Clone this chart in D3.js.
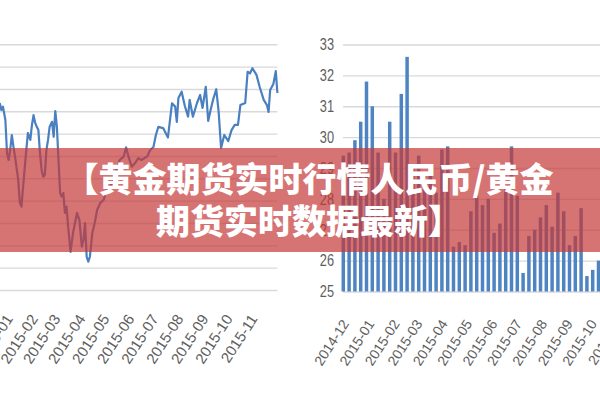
<!DOCTYPE html>
<html><head><meta charset="utf-8">
<script src="https://cdn.jsdelivr.net/npm/d3@7/dist/d3.min.js"></script>
<style>html,body{margin:0;padding:0;background:#fff;overflow:hidden}</style>
</head><body>
<svg id="c" width="600" height="400"></svg>
<script>
// ---- Left chart: daily line (days since 2015-01-01, value) ----
const lineDays = [-11,-9,-7,-4,-2,0,2,4,6,8,12,14,16,18,22,24,27,29,31,33,35,37,39,41,43,45,47,49,51,54,56,58,60,62,64,66,68,70,72,74,77,80,85,88,91,93,95,97,99,101,104,107,110,114,118,122,126,130,134,138,143,146,149,153,157,161,165,172,176,180,183,186,192,198,203,207,209,211,215,219,223,225,229,234,238,241,245,248,251,254,258,261,264,268,273,277,281,285,288,294,297,300,303,308,312,317,321,323,325,329,332,334];
const lineValues = [83.7,80.6,82.1,76.1,61.3,58.2,62.7,69.4,64.2,59.7,49.2,39.0,37.3,46.2,62.7,70.3,67.2,73.9,78.3,74.8,73.1,71.6,61.3,53.7,50.7,51.5,62.7,67.2,73.1,75.3,68.6,80.1,73.1,58.2,43.4,41.8,43.4,34.5,37.3,28.3,17.1,25.5,34.5,31.3,19.4,22.4,30.0,14.9,12.7,14.9,25.5,30.0,35.8,39.0,40.3,44.8,46.2,49.2,53.7,58.2,59.7,63.9,59.7,55.2,56.7,59.0,58.2,59.7,62.7,64.0,69.4,73.0,72.5,68.3,83.6,82.1,75.3,86.0,88.8,82.4,77.6,85.1,77.6,83.6,87.3,81.5,91.0,75.7,80.6,85.1,89.9,79.7,63.6,69.4,66.7,71.6,73.9,73.9,82.8,83.7,97.7,97.0,99.3,96.3,90.9,85.1,82.8,79.7,89.5,92.2,98.0,88.2];
const leftMonths = ["2015-01","2015-02","2015-03","2015-04","2015-05","2015-06","2015-07","2015-08","2015-09","2015-10","2015-11"];
const leftGrid = [0,10,20,30,40,50,60,70,80,90,100,110];

// ---- Right chart: weekly bars ----
const barValues = [29.4,29.5,29.9,30.5,31.8,31.0,29.5,28.0,30.5,29.5,31.4,32.6,29.0,29.4,28.5,28.8,28.2,29.6,29.7,26.45,26.6,26.5,27.6,28.1,27.8,28.0,26.9,27.2,28.3,29.7,28.1,25.6,26.8,27.0,27.4,27.8,27.1,28.2,27.6,26.5,26.8,27.7,25.5,25.7,26.0];
const rightYTicks = [25,26,27,28,29,30,31,32,33];
const rightMonths = ["2014-12","2015-01","2015-02","2015-03","2015-04","2015-05","2015-06","2015-07","2015-08","2015-09","2015-10","2015-11"];

const titleLines = ["【黄金期货实时行情人民币/黄金", "期货实时数据最新】"];

const svg = d3.select("#c");
svg.append("rect").attr("width",600).attr("height",400).attr("fill","#ffffff");
const parseM = d3.timeParse("%Y-%m");
const gridColor = "#d9d9d9";
const textColor = "#5e5e5e";

// ---------- LEFT ----------
const lx = d3.scaleTime().domain([new Date(2015,0,1), new Date(2015,11,1)]).range([8.6, 277.4]);
const ly = d3.scaleLinear().domain([0,110]).range([290, 44.3]);
const lg = svg.append("g");
lg.append("g").call(d3.axisLeft(ly).tickValues(leftGrid).tickSize(-277.4).tickFormat(""))
  .call(g => g.select(".domain").remove())
  .call(g => g.selectAll("line").attr("stroke", gridColor).attr("stroke-width",1.4));
const lineData = lineDays.map((d,i) => ({date: d3.timeDay.offset(new Date(2015,0,1), d), v: lineValues[i]}));
lg.append("path").datum(lineData)
  .attr("fill","none").attr("stroke","#4a80c0").attr("stroke-width",2.2).attr("stroke-linejoin","round")
  .attr("d", d3.line().x(d => lx(d.date)).y(d => ly(d.v)));
lg.append("g").attr("transform","translate(0,316)")
  .call(d3.axisBottom(lx).tickValues(leftMonths.map(parseM)).tickSize(0).tickFormat(d3.timeFormat("%Y-%m")))
  .call(g => g.select(".domain").remove())
  .call(g => g.selectAll("text").attr("y",0).attr("dy","0.35em").attr("transform","rotate(-57)")
     .style("text-anchor","end").attr("fill",textColor)
     .style("font-family","'Liberation Sans', Arial, sans-serif").style("font-size","15px"));

// ---------- RIGHT ----------
const ry = d3.scaleLinear().domain([25,33]).range([291.5, 44.5]);
const rx = d3.scaleBand().domain(d3.range(barValues.length)).range([340.4, 601.4]).paddingInner(0.4).paddingOuter(0.2);
const rt = d3.scaleTime().domain([new Date(2014,11,1), new Date(2015,9,1)]).range([345, 593]);
const rg = svg.append("g");
rg.append("g").attr("transform","translate(343,0)")
  .call(d3.axisLeft(ry).tickValues(rightYTicks).tickSize(-257).tickFormat(""))
  .call(g => g.select(".domain").remove())
  .call(g => g.selectAll("line").attr("stroke", gridColor).attr("stroke-width",1.4));
rg.selectAll("text.ylab").data(rightYTicks).join("text").attr("class","ylab")
  .attr("transform", d => `translate(334,${ry(d)}) scale(0.8,1)`)
  .attr("dy","0.36em").attr("text-anchor","end").attr("fill",textColor)
  .style("font-family","'Liberation Sans Narrow','Liberation Sans',Arial,sans-serif").style("font-size","16px")
  .text(d => d);
rg.selectAll("rect.bar").data(barValues).join("rect").attr("class","bar")
  .attr("x",(d,i) => rx(i)).attr("width", rx.bandwidth())
  .attr("y", d => ry(d)).attr("height", d => ry(25) - ry(d))
  .attr("fill","#4f84c2");
rg.append("g").attr("transform","translate(0,321)")
  .call(d3.axisBottom(rt).tickValues(rightMonths.map(parseM)).tickSize(0).tickFormat(d3.timeFormat("%Y-%m")))
  .call(g => g.select(".domain").remove())
  .call(g => g.selectAll("text").attr("y",0).attr("dy","0.35em").attr("transform","rotate(-57)")
     .style("text-anchor","end").attr("fill",textColor)
     .style("font-family","'Liberation Sans', Arial, sans-serif").style("font-size","14px"));

// ---------- Banner ----------
svg.append("rect").attr("x",0).attr("y",148).attr("width",600).attr("height",104)
  .attr("fill","rgb(196,56,56)").attr("fill-opacity",0.7);
svg.selectAll("text.title").data(titleLines).join("text").attr("class","title")
  .attr("x",309).attr("y",(d,i) => 192 + i*42)
  .attr("text-anchor","middle").attr("fill","#ffffff")
  .style("font-family","'Noto Sans CJK SC','Noto Sans',sans-serif").style("font-weight","900").style("font-size","34px")
  .text(d => d);
</script>
</body></html>
